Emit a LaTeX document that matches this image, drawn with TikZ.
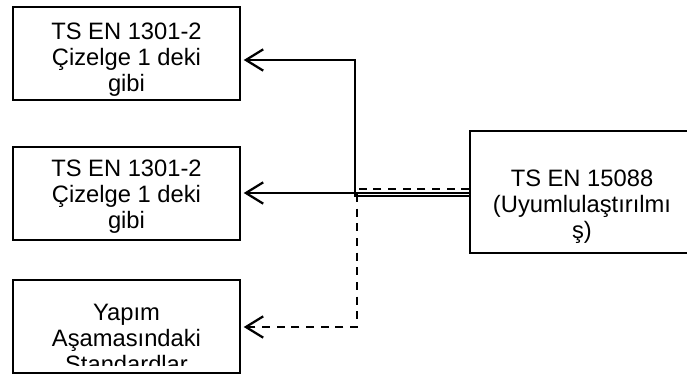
\documentclass[tikz,border=0pt]{standalone}
\usepackage{fontspec}
\setmainfont{Liberation Sans}
\usetikzlibrary{arrows.meta,calc}

\tikzset{
    box/.style={draw, line width=1.1pt, minimum width=170.25pt, minimum height=69.75pt, inner sep=0pt},
    txt/.style={align=center, font=\fontsize{17.8}{19.5}\selectfont, inner sep=0pt},
    wire/.style={line width=1.7pt, -{Straight Barb[length=13pt,width=16pt,line width=1.7pt]}},
    dashwire/.style={wire, dash pattern=on 6pt off 5pt}
}

\begin{document}
\begin{tikzpicture}[x=0.75pt, y=-0.75pt]
\clip (0,0) rectangle (687,374);

% boxes on the left
\node[box] (gibiA) at (126.5, 53.5) {};
\node[box] (gibiB) at (126.5, 193.5) {};
\node[box] (yapim) at (126.5, 326.5) {};
% source box, cut by the right edge
\node[box, minimum width=168pt, minimum height=91.5pt] (kaynak) at (582, 192) {};

\node[txt] at ($(gibiA.center)+(0,6.5)$) {TS EN 1301-2\\Çizelge 1 deki\\gibi};
\node[txt] at ($(gibiB.center)+(0,3.5)$) {TS EN 1301-2\\Çizelge 1 deki\\gibi};
\begin{scope}
    \clip (13,280) rectangle (240,366);
    \node[txt] at ($(yapim.center)+(0,12)$) {Yapım\\Aşamasındaki\\Standardlar};
\end{scope}
\node[txt] at ($(kaynak.center)+(0,15)$) {TS EN 15088\\(Uyumlulaştırılmı\\ş)};

\coordinate (kol) at (355, 196);
\coordinate (kolD) at (357, 189);

% connectors
\draw[wire] ($(kaynak.west)+(0,4)$) -- (kol) |- ($(gibiA.east)+(3,6.5)$);
\draw[wire] ($(kaynak.west)+(0,1)$) -- ($(gibiB.east)+(3,-0.5)$);
\draw[dashwire] ($(kaynak.west)+(0,-3)$) -- (kolD) |- ($(yapim.east)+(3,0.5)$);
\end{tikzpicture}
\end{document}
